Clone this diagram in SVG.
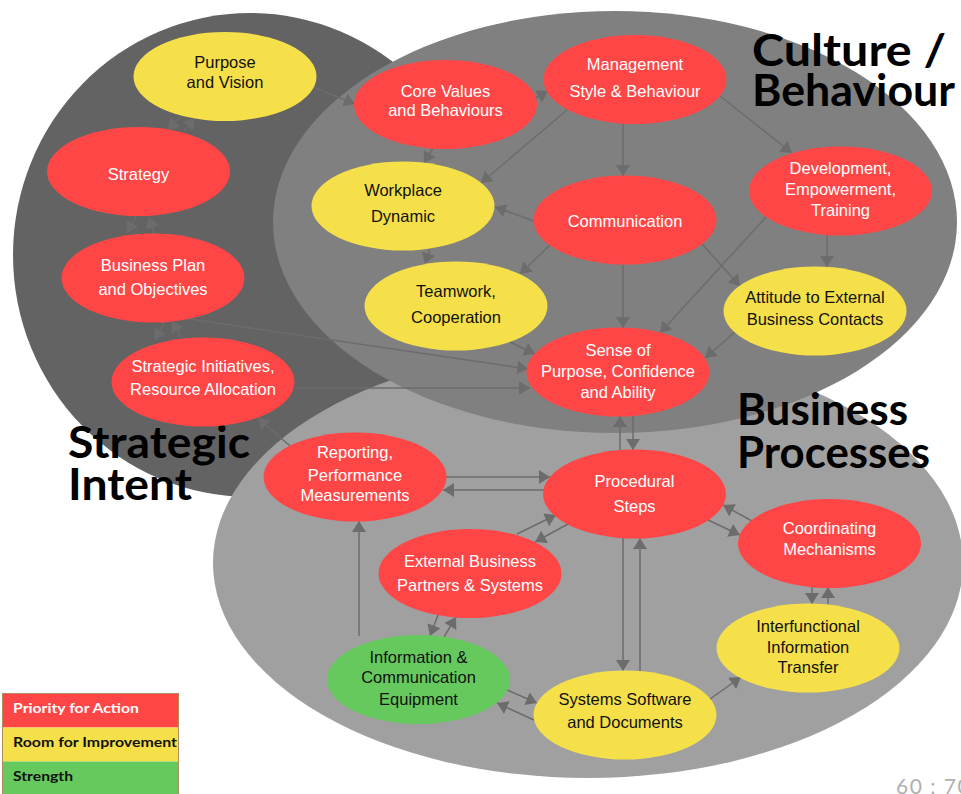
<svg xmlns="http://www.w3.org/2000/svg" width="961" height="794" viewBox="0 0 961 794">
<style>
.red{fill:#ff4646}
.yel{fill:#f5e04a}
.grn{fill:#66c95e}
.t{font-family:"Liberation Sans",Arial,sans-serif;font-size:16.5px;text-anchor:middle}
.w{fill:#ffffff}
.b{fill:#111111}
.big{font-family:Lato,"DejaVu Sans",sans-serif;font-weight:bold;font-size:44px;fill:#000}
.lg{font-family:Lato,"DejaVu Sans",sans-serif;font-weight:bold;font-size:13.5px}
.c line{stroke:#6c6c6c;stroke-width:1.5;fill:none;marker-end:url(#ah)}
</style>
<defs>
<marker id="ah" markerUnits="userSpaceOnUse" markerWidth="12" markerHeight="14" refX="11" refY="7" orient="auto">
<path d="M0,0 L11,7 L0,14 z" fill="#6c6c6c"/>
</marker>
</defs>
<rect width="961" height="794" fill="#ffffff"/>
<g id="regions">
<ellipse cx="250" cy="255" rx="237" ry="242" fill="#636363"/>
<ellipse cx="588" cy="563" rx="375" ry="215" fill="#a0a0a0"/>
<ellipse cx="615" cy="222" rx="342" ry="211" fill="#808080"/>
</g>
<g id="region-labels">
<text class="big" x="752" y="66" textLength="194" lengthAdjust="spacingAndGlyphs">Culture /</text>
<text class="big" x="752" y="106" textLength="203" lengthAdjust="spacingAndGlyphs">Behaviour</text>
<text class="big" x="737" y="425" textLength="171" lengthAdjust="spacingAndGlyphs">Business</text>
<text class="big" x="737" y="468" textLength="193" lengthAdjust="spacingAndGlyphs">Processes</text>
<text class="big" x="68" y="458" textLength="182" lengthAdjust="spacingAndGlyphs">Strategic</text>
<text class="big" x="68" y="500" textLength="124" lengthAdjust="spacingAndGlyphs">Intent</text>
</g>
<g id="connectors" class="c">
<line x1="180" y1="117" x2="168" y2="130"/>
<line x1="184" y1="131" x2="195" y2="118"/>
<line x1="137" y1="215" x2="127" y2="233"/>
<line x1="155" y1="236" x2="149" y2="217"/>
<line x1="165" y1="321" x2="155" y2="340"/>
<line x1="183" y1="341" x2="172" y2="321"/>
<line x1="313" y1="87" x2="355" y2="104"/>
<line x1="190" y1="319" x2="528" y2="369"/>
<line x1="295" y1="388" x2="530" y2="388"/>
<line x1="510" y1="342" x2="535" y2="354"/>
<line x1="290" y1="446" x2="258" y2="418"/>
<line x1="534" y1="99" x2="548" y2="91"/>
<line x1="433" y1="148" x2="424" y2="163"/>
<line x1="567" y1="110" x2="481" y2="183"/>
<line x1="623" y1="124" x2="623" y2="176"/>
<line x1="720" y1="96" x2="792" y2="153"/>
<line x1="534" y1="221" x2="495" y2="207"/>
<line x1="430" y1="249" x2="425" y2="264"/>
<line x1="550" y1="245" x2="520" y2="274"/>
<line x1="623" y1="265" x2="623" y2="328"/>
<line x1="702" y1="244" x2="740" y2="286"/>
<line x1="767" y1="216" x2="660" y2="333"/>
<line x1="827" y1="235" x2="827" y2="267"/>
<line x1="735" y1="332" x2="705" y2="358"/>
<line x1="620" y1="450" x2="620" y2="416"/>
<line x1="633" y1="416" x2="633" y2="450"/>
<line x1="446" y1="477" x2="550" y2="477"/>
<line x1="544" y1="490" x2="443" y2="490"/>
<line x1="517" y1="534" x2="556" y2="515"/>
<line x1="568" y1="524" x2="535" y2="542"/>
<line x1="623" y1="538" x2="623" y2="671"/>
<line x1="640" y1="671" x2="640" y2="538"/>
<line x1="752" y1="521" x2="723" y2="505"/>
<line x1="708" y1="520" x2="740" y2="535"/>
<line x1="812" y1="587" x2="812" y2="604"/>
<line x1="828" y1="604" x2="828" y2="587"/>
<line x1="710" y1="699" x2="741" y2="677"/>
<line x1="359" y1="636" x2="359" y2="521"/>
<line x1="438" y1="615" x2="430" y2="636"/>
<line x1="444" y1="637" x2="456" y2="617"/>
<line x1="507" y1="690" x2="537" y2="703"/>
<line x1="534" y1="720" x2="497" y2="703"/>
</g>
<g id="n-purpose"><ellipse class="yel" cx="225" cy="76.5" rx="91.5" ry="44.5"/><text class="t b" x="225" y="68">Purpose</text><text class="t b" x="225" y="88">and Vision</text></g>
<g id="n-strategy"><ellipse class="red" cx="138.5" cy="171.5" rx="91.5" ry="44.5"/><text class="t w" x="138.5" y="180">Strategy</text></g>
<g id="n-bizplan"><ellipse class="red" cx="153" cy="278" rx="91.5" ry="44.5"/><text class="t w" x="153" y="271">Business Plan</text><text class="t w" x="153" y="295">and Objectives</text></g>
<g id="n-initiatives"><ellipse class="red" cx="203" cy="382" rx="91.5" ry="44.5"/><text class="t w" x="203" y="372">Strategic Initiatives,</text><text class="t w" x="203" y="395">Resource Allocation</text></g>
<g id="n-corevalues"><ellipse class="red" cx="445.5" cy="104.5" rx="91.5" ry="44.5"/><text class="t w" x="445.5" y="97">Core Values</text><text class="t w" x="445.5" y="116">and Behaviours</text></g>
<g id="n-management"><ellipse class="red" cx="635" cy="79.5" rx="91.5" ry="44.5"/><text class="t w" x="635" y="70">Management</text><text class="t w" x="635" y="97">Style &amp; Behaviour</text></g>
<g id="n-development"><ellipse class="red" cx="840.5" cy="191" rx="91.5" ry="44.5"/><text class="t w" x="840.5" y="174">Development,</text><text class="t w" x="840.5" y="195">Empowerment,</text><text class="t w" x="840.5" y="216">Training</text></g>
<g id="n-workplace"><ellipse class="yel" cx="403" cy="206" rx="91.5" ry="44.5"/><text class="t b" x="403" y="196">Workplace</text><text class="t b" x="403" y="222">Dynamic</text></g>
<g id="n-communication"><ellipse class="red" cx="625" cy="220" rx="91.5" ry="44.5"/><text class="t w" x="625" y="227">Communication</text></g>
<g id="n-teamwork"><ellipse class="yel" cx="456" cy="306" rx="91.5" ry="44.5"/><text class="t b" x="456" y="297">Teamwork,</text><text class="t b" x="456" y="323">Cooperation</text></g>
<g id="n-attitude"><ellipse class="yel" cx="815" cy="311" rx="91.5" ry="44.5"/><text class="t b" x="815" y="303">Attitude to External</text><text class="t b" x="815" y="325">Business Contacts</text></g>
<g id="n-sense"><ellipse class="red" cx="618" cy="372" rx="91.5" ry="44.5"/><text class="t w" x="618" y="356">Sense of</text><text class="t w" x="618" y="377">Purpose, Confidence</text><text class="t w" x="618" y="398">and Ability</text></g>
<g id="n-reporting"><ellipse class="red" cx="355" cy="477" rx="91.5" ry="44.5"/><text class="t w" x="355" y="458">Reporting,</text><text class="t w" x="355" y="481">Performance</text><text class="t w" x="355" y="501">Measurements</text></g>
<g id="n-procedural"><ellipse class="red" cx="634.5" cy="494" rx="91.5" ry="44.5"/><text class="t w" x="634.5" y="487">Procedural</text><text class="t w" x="634.5" y="512">Steps</text></g>
<g id="n-coordinating"><ellipse class="red" cx="829.5" cy="543.5" rx="91.5" ry="44.5"/><text class="t w" x="829.5" y="534">Coordinating</text><text class="t w" x="829.5" y="555">Mechanisms</text></g>
<g id="n-external"><ellipse class="red" cx="470" cy="573.5" rx="91.5" ry="44.5"/><text class="t w" x="470" y="567">External Business</text><text class="t w" x="470" y="591">Partners &amp; Systems</text></g>
<g id="n-interfunctional"><ellipse class="yel" cx="808" cy="648" rx="91.5" ry="44.5"/><text class="t b" x="808" y="632">Interfunctional</text><text class="t b" x="808" y="653">Information</text><text class="t b" x="808" y="673">Transfer</text></g>
<g id="n-infocomm"><ellipse class="grn" cx="418.5" cy="679.5" rx="91.5" ry="44.5"/><text class="t b" x="418.5" y="663">Information &amp;</text><text class="t b" x="418.5" y="683">Communication</text><text class="t b" x="418.5" y="705">Equipment</text></g>
<g id="n-systems"><ellipse class="yel" cx="625" cy="715" rx="91.5" ry="44.5"/><text class="t b" x="625" y="705">Systems Software</text><text class="t b" x="625" y="728">and Documents</text></g>
<g id="legend">
<rect x="2.5" y="693.5" width="176" height="34" fill="#ff4646"/>
<rect x="2.5" y="727.5" width="176" height="34" fill="#f5e04a"/>
<rect x="2.5" y="761.5" width="176" height="34" fill="#66c95e"/>
<rect x="2.5" y="693.5" width="176" height="102" fill="none" stroke="#b08c5c" stroke-width="1"/>
<text class="lg" x="13" y="713" fill="#ffffff" textLength="126" lengthAdjust="spacingAndGlyphs">Priority for Action</text>
<text class="lg" x="13" y="747" fill="#111111" textLength="164" lengthAdjust="spacingAndGlyphs">Room for Improvement</text>
<text class="lg" x="13" y="781" fill="#111111" textLength="60" lengthAdjust="spacingAndGlyphs">Strength</text>
</g>
<text x="896" y="794" font-family="Lato,'DejaVu Sans',sans-serif" font-size="21" letter-spacing="1.5" fill="#b0b0b0">60 : 70</text>
</svg>
